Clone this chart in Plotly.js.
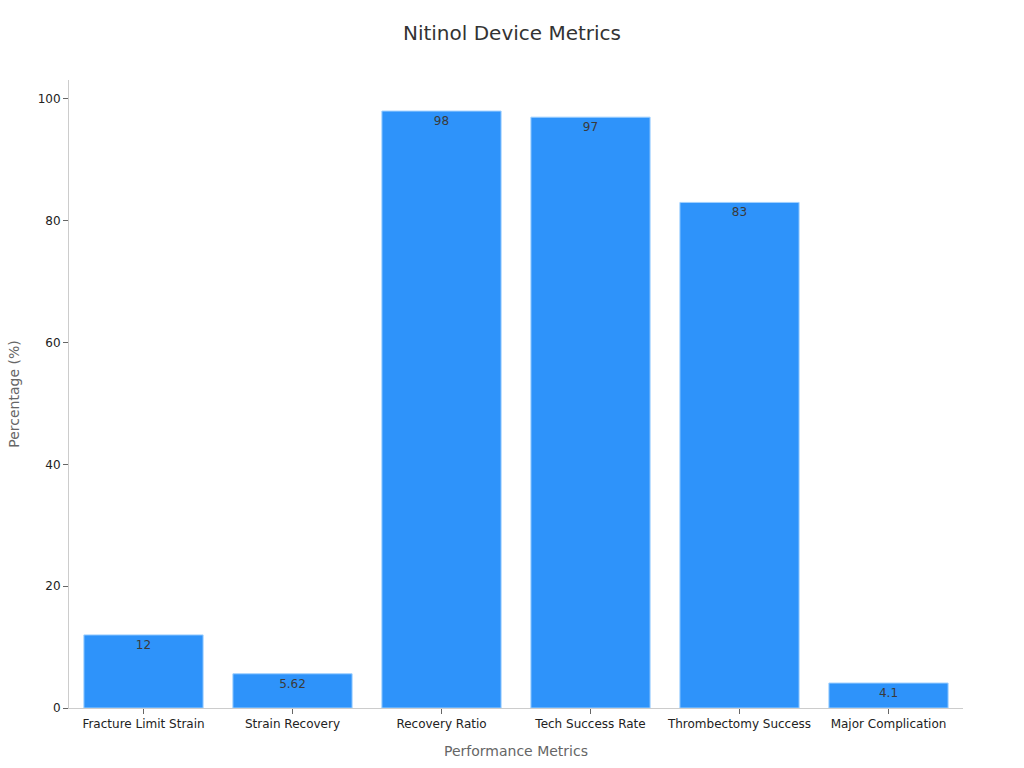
<!DOCTYPE html>
<html><head><meta charset="utf-8">
<script src="https://cdn.plot.ly/plotly-3.0.1.min.js"></script>
<style>html,body{margin:0;padding:0;background:#fff}#chart{width:1024px;height:768px}</style>
</head><body><div id="chart"></div>
<script>
const categories = ["Fracture Limit Strain","Strain Recovery","Recovery Ratio","Tech Success Rate","Thrombectomy Success","Major Complication"];
const values = [12, 5.62, 98, 97, 83, 4.1];
const labels = ["12","5.62","98","97","83","4.1"];
const yTicks = [0,20,40,60,80,100];

const trace = {
  type: 'bar', x: categories, y: values, text: labels,
  textposition: 'inside', insidetextanchor: 'end',
  textfont: {family: 'DejaVu Sans', size: 12, color: '#3a3a3a'},
  marker: {color: '#2E93FA', line: {color: '#9fd0ff', width: 1}},
  hoverinfo: 'none', cliponaxis: false
};
const layout = {
  width: 1024, height: 768,
  margin: {l: 69, r: 61, t: 80, b: 60},
  paper_bgcolor: '#fff', plot_bgcolor: '#fff',
  font: {family: 'DejaVu Sans', size: 12, color: '#333'},
  title: {text: 'Nitinol Device Metrics', x: 0.5, xanchor: 'center', y: 0.957, yanchor: 'middle', font: {size: 20, color: '#333'}},
  bargap: 0.2,
  xaxis: {title: {text: 'Performance Metrics', font: {size: 14, color: '#666'}, standoff: 15},
    showline: true, linecolor: '#ccc', linewidth: 1, ticks: 'outside', ticklen: 5, tickcolor: '#666',
    tickfont: {size: 12, color: '#222'}, showgrid: false, zeroline: false},
  yaxis: {title: {text: 'Percentage (%)', font: {size: 14, color: '#666'}, standoff: 14},
    range: [0, 103.1], tickvals: yTicks, showline: true, linecolor: '#ccc', linewidth: 1,
    ticks: 'outside', ticklen: 5, tickcolor: '#666', tickfont: {size: 12, color: '#222'},
    showgrid: false, zeroline: false},
  showlegend: false
};
Plotly.newPlot('chart', [trace], layout, {displayModeBar: false, staticPlot: true});
</script></body></html>
